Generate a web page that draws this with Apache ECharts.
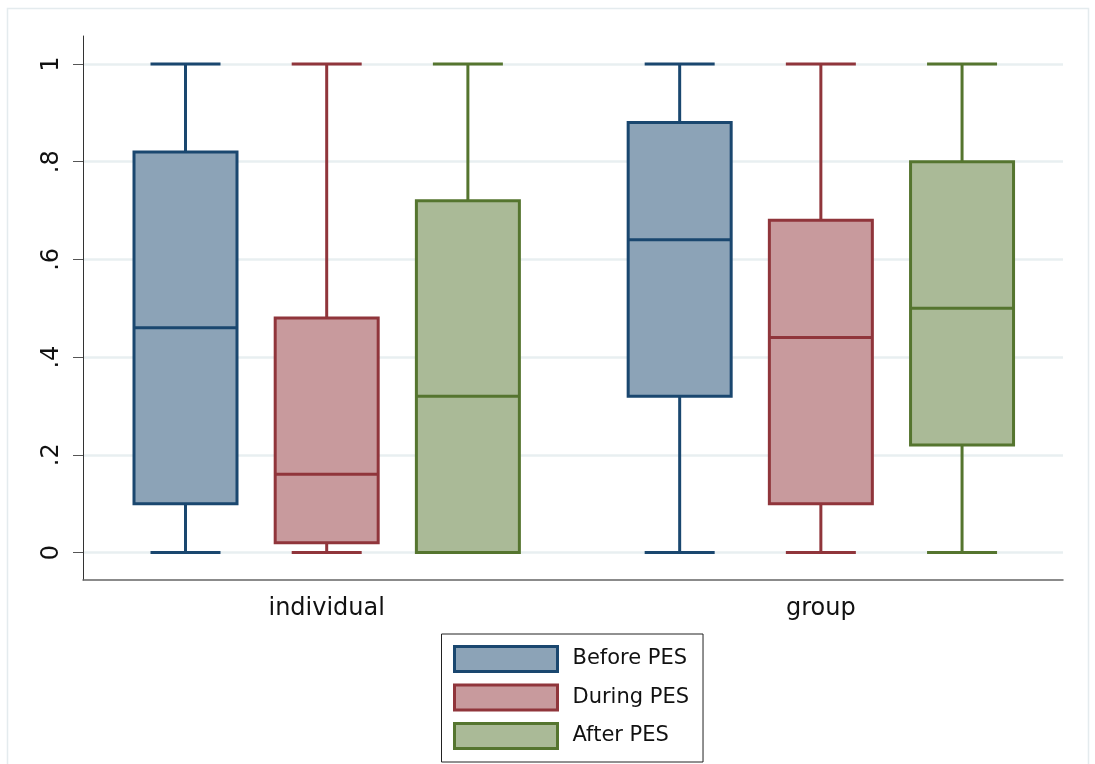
<!DOCTYPE html>
<html>
<head>
<meta charset="utf-8">
<title>PES box plots</title>
<script src="https://cdn.jsdelivr.net/npm/echarts@6/dist/echarts.min.js"></script>
<style>
  html, body { margin: 0; padding: 0; background: #ffffff; }
  #chart { width: 1095px; height: 764px; }
</style>
</head>
<body>
<div id="chart"></div>
<script>
// Categories on the x axis and the three measurement phases
const categories = ['individual', 'group'];
const seriesNames = ['Before PES', 'During PES', 'After PES'];

// Five-number summaries per category: [min, Q1, median, Q3, max]
const beforePES = [[0, 0.10, 0.46, 0.82, 1], [0, 0.32, 0.64, 0.88, 1]];
const duringPES = [[0, 0.02, 0.16, 0.48, 1], [0, 0.10, 0.44, 0.68, 1]];
const afterPES  = [[0, 0.00, 0.32, 0.72, 1], [0, 0.22, 0.50, 0.80, 1]];

// Y axis ticks and their labels
const yTicks = [0, 0.2, 0.4, 0.6, 0.8, 1];
const yTickLabels = ['0', '.2', '.4', '.6', '.8', '1'];

// Styling
const lineColors = ['#1a476f', '#90353b', '#55752f'];
const fillColors = ['#8ca3b7', '#c89a9d', '#aaba97'];
const FONT = '"DejaVu Sans", "Liberation Sans", Arial, sans-serif';
const BOX_W = 103;     // box width in px (stroke centred on the edge)
const CAP_W = 70;      // whisker cap width in px
const LINE_W = 3;

// Box slots along a continuous x scale: boxes one unit apart, groups 3.5 units apart
const GROUP_STRIDE = 3.5;
const slotOf = (catIdx, serIdx) => catIdx * GROUP_STRIDE + serIdx;
const labelPos = categories.map((c, i) => slotOf(i, 1));

const allSeries = [beforePES, duringPES, afterPES];

function makeRender(serIdx) {
  const stroke = lineColors[serIdx];
  const fill = fillColors[serIdx];
  return function (params, api) {
    const x = api.value(0);
    const lo = api.coord([x, api.value(1)]);
    const q1 = api.coord([x, api.value(2)]);
    const md = api.coord([x, api.value(3)]);
    const q3 = api.coord([x, api.value(4)]);
    const hi = api.coord([x, api.value(5)]);
    const cx = lo[0];
    const lineStyle = { stroke: stroke, lineWidth: LINE_W, lineCap: 'butt' };
    const line = (x1, y1, x2, y2) => ({
      type: 'line',
      shape: { x1: x1, y1: y1, x2: x2, y2: y2 },
      style: lineStyle
    });
    return {
      type: 'group',
      children: [
        line(cx, q1[1], cx, lo[1]),
        line(cx, q3[1], cx, hi[1]),
        line(cx - CAP_W / 2, lo[1], cx + CAP_W / 2, lo[1]),
        line(cx - CAP_W / 2, hi[1], cx + CAP_W / 2, hi[1]),
        {
          type: 'rect',
          shape: { x: cx - BOX_W / 2, y: q3[1], width: BOX_W, height: q1[1] - q3[1] },
          style: { fill: fill, stroke: stroke, lineWidth: LINE_W, lineJoin: 'miter' }
        },
        line(cx - BOX_W / 2, md[1], cx + BOX_W / 2, md[1])
      ]
    };
  };
}

const series = allSeries.map((rows, s) => ({
  name: seriesNames[s],
  type: 'custom',
  renderItem: makeRender(s),
  itemStyle: { color: fillColors[s], borderColor: lineColors[s], borderWidth: LINE_W },
  encode: { x: 0, y: [1, 2, 3, 4, 5] },
  data: rows.map((r, c) => [slotOf(c, s)].concat(r)),
  silent: true
}));

const chart = echarts.init(document.getElementById('chart'), null, { renderer: 'canvas' });
chart.setOption({
  animation: false,
  backgroundColor: '#ffffff',
  graphic: [{
    type: 'rect',
    silent: true,
    shape: { x: 7.5, y: 8.5, width: 1081, height: 780 },
    style: { fill: null, stroke: '#e4ebee', lineWidth: 1.5 }
  }],
  grid: { left: 83, right: 32, top: 36, bottom: 184, containLabel: false },
  xAxis: {
    type: 'value',
    min: -0.726,
    max: 6.215,
    axisLine: { show: true, onZero: false, lineStyle: { color: '#666666', width: 1.5 } },
    axisTick: { show: false },
    splitLine: { show: false },
    axisLabel: {
      customValues: labelPos,
      formatter: (v) => {
        const i = labelPos.findIndex(p => Math.abs(p - v) < 1e-6);
        return i >= 0 ? categories[i] : '';
      },
      fontFamily: FONT,
      fontSize: 24,
      color: '#111111',
      margin: 17
    }
  },
  yAxis: {
    type: 'value',
    min: -0.0563,
    max: 1.0573,
    axisLine: { show: true, onZero: false, lineStyle: { color: '#333333', width: 1 } },
    axisTick: { show: true, customValues: yTicks, length: 10, lineStyle: { color: '#555555', width: 1 } },
    axisLabel: {
      customValues: yTicks,
      formatter: (v) => {
        const i = yTicks.findIndex(t => Math.abs(t - v) < 1e-6);
        return i >= 0 ? yTickLabels[i] : '';
      },
      rotate: 90,
      fontFamily: FONT,
      fontSize: 24,
      color: '#111111',
      margin: 19
    },
    splitLine: { show: true, lineStyle: { color: '#e8eff1', width: 2.5 } }
  },
  legend: {
    orient: 'vertical',
    left: 441.5,
    top: 634,
    height: 120,
    selectedMode: false,
    data: seriesNames.map((n, i) => ({
      name: n,
      icon: 'rect',
      itemStyle: { color: fillColors[i], borderColor: lineColors[i], borderWidth: LINE_W }
    })),
    itemWidth: 103,
    itemHeight: 25,
    itemGap: 10.5,
    padding: [11, 14, 12, 11.5],
    borderColor: '#222222',
    borderWidth: 1,
    backgroundColor: '#ffffff',
    textStyle: { fontFamily: FONT, fontSize: 21, color: '#111111', padding: [0, 0, 0, 10] }
  },
  series: series
});
</script>
</body>
</html>
